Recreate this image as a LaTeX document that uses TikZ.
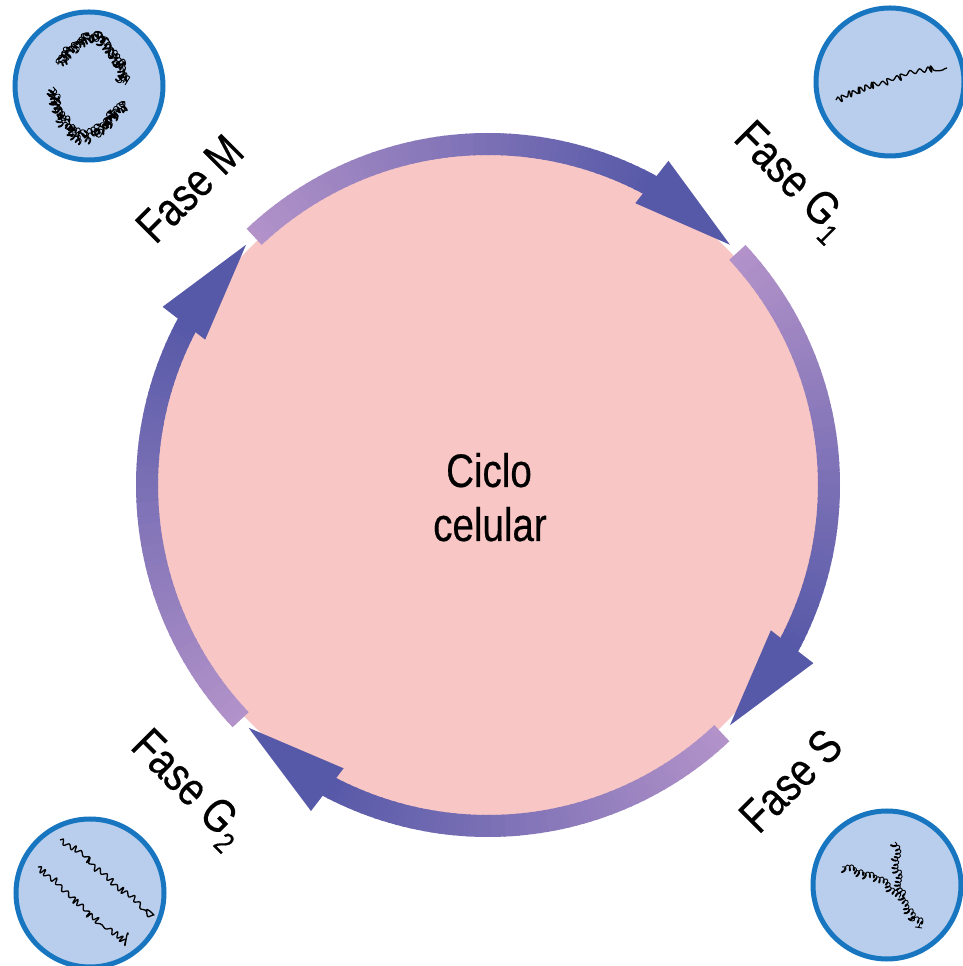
\documentclass[tikz,border=0pt]{standalone}
\usepackage{fontspec}
\newfontfamily\labfont[FakeStretch=0.82, FakeBold=0.4]{Liberation Sans}
\usetikzlibrary{decorations.pathmorphing}
\definecolor{cellpink}{RGB}{248,198,197}
\definecolor{ringlight}{RGB}{178,146,201}
\definecolor{ringdark}{RGB}{86,89,168}
\definecolor{nucfill}{RGB}{184,206,236}
\definecolor{nucedge}{RGB}{24,118,192}
% loose chromatid: a wavy strand with irregular kinks
\newcommand\wiggle[1]{%
  \draw[black, line width=1.3pt, line join=round]
    decorate[decoration={snake, amplitude=2.6pt, segment length=7pt}]
    {decorate[decoration={random steps, segment length=4pt, amplitude=1.8pt}] {#1}};}
% condensed chromatin: a fuzzy band of tight loops
\newcommand\clump[2][3.5pt]{%
  \draw[black, line width=0.9pt, line join=round]
    decorate[decoration={coil, amplitude=3pt, segment length=4pt, aspect=0.5}]
    {decorate[decoration={random steps, segment length=3pt, amplitude=#1}] {#2}};}
\begin{document}
\begin{tikzpicture}[x=1pt,y=1pt,
  nucleus/.style={circle, draw=nucedge, fill=nucfill, line width=5pt, minimum size=148pt, inner sep=0pt},
  phase/.style={font=\labfont\fontsize{47}{47}\selectfont, anchor=base, inner sep=0pt}]
\pgfmathsetseed{4711}
\useasboundingbox (0,0) rectangle (963,966);
\fill[white] (0,0) rectangle (963,966);
\coordinate (c) at (488,481);

% cell body
\fill[cellpink] (c) circle[radius=336];

% four phase arcs, each shading from light to dark and ending in an arrowhead
\foreach \st/\tp in {133.3/44.8, 43/-44.8, -46.7/-134.6, -136.5/-224.8}{
  \pgfmathsetmacro\bend{\tp+16.5}
  \foreach \i in {0,...,59}{
    \pgfmathsetmacro\pa{\st-(\st-\bend)*\i/60}
    \pgfmathsetmacro\pb{\st-(\st-\bend)*(\i+1)/60-0.3}
    \pgfmathtruncatemacro\pct{100*\i/59}
    \draw[line width=22pt, ringdark!\pct!ringlight] (c) ++(\pa:341)
      arc[start angle=\pa, end angle=\pb, radius=341];
  }
  \fill[ringdark, shift={(c)}] (\tp+16.1:371) -- (\tp:341) -- (\tp+17.6:318) -- cycle;
}

% labels
\node[phase] (ciclo) at (489,479) {Ciclo};
\node[phase] (celular) at (490,425) {celular};
\node[phase, rotate=45] (fm) at (201,766) {Fase M};
\node[phase, rotate=-45] (fg1) at (782,776) {Fase G\kern1pt\raisebox{-10pt}{\fontsize{30}{30}\selectfont 1}};
\node[phase, rotate=45] (fs) at (802,174) {Fase S};
\node[phase, rotate=-45] (fg2) at (179,168) {Fase G\kern1pt\raisebox{-10pt}{\fontsize{30}{30}\selectfont 2}};

% nuclei
\node[nucleus] (nm) at (89,880) {};
\node[nucleus] (ng1) at (890,884) {};
\node[nucleus] (ng2) at (90,73) {};
\node[nucleus] (ns) at (887,81) {};

% condensed chromosome (M)
\begin{scope}[shift={(nm.center)}]
  \clump{(-31,21) -- (-14,41) -- (8,53) -- (21,36) -- (29,21) -- (36,1)}
  \clump{(-29,23) -- (-12,43) -- (10,51) -- (23,34) -- (31,19) -- (34,3)}
  \clump{(-36,-1) -- (-34,-19) -- (-24,-39) -- (-12,-54) -- (6,-47) -- (23,-32) -- (36,-17)}
  \clump{(-34,-3) -- (-32,-21) -- (-22,-37) -- (-10,-51) -- (8,-45) -- (25,-30) -- (34,-19)}
\end{scope}
% single chromatid (G1)
\begin{scope}[shift={(ng1.center)}]
  \wiggle{(-54,-18) -- (-19,-8) -- (16,2) -- (57,14)}
\end{scope}
% two chromatids (G2)
\begin{scope}[shift={(ng2.center)}]
  \wiggle{(-30,53) -- (10,23) -- (57,-19)}
  \wiggle{(-52,26) -- (-10,-7) -- (38,-42)}
\end{scope}
% replication fork (S)
\begin{scope}[shift={(ns.center)}]
  \clump[2.5pt]{(8,43) -- (10,14) -- (13,-12) -- (35,-43)}
  \clump[2pt]{(-45,18) -- (-20,10) -- (-5,5) -- (13,-12)}
\end{scope}
\end{tikzpicture}
\end{document}
